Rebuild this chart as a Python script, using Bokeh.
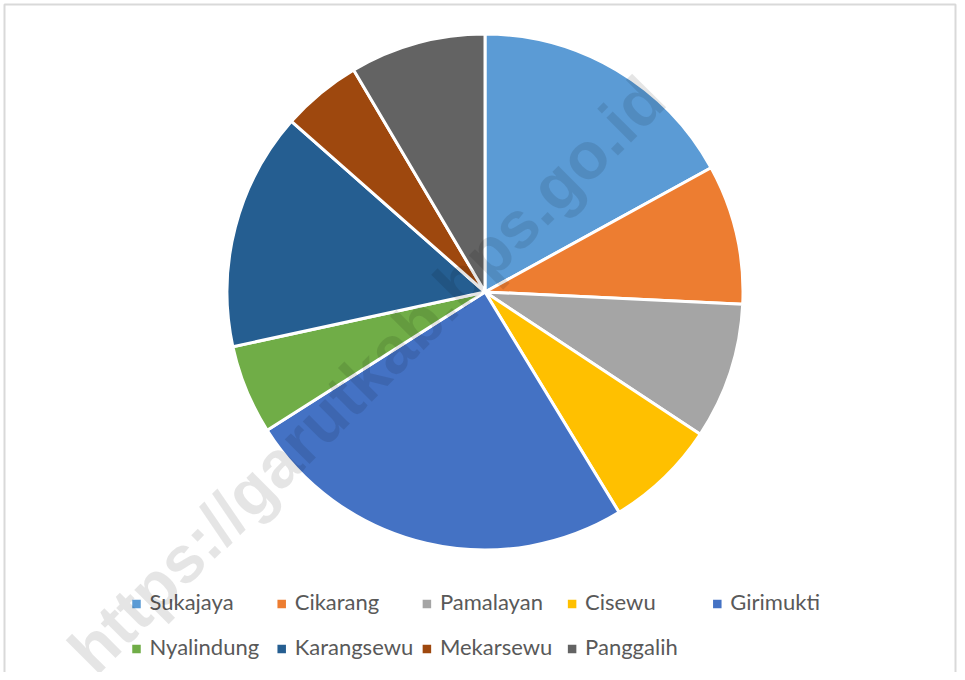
import numpy as np
from bokeh.plotting import figure
from bokeh.models import Range1d, ColumnDataSource
from bokeh.core.properties import value
from bokeh.embed import file_html
from bokeh.resources import INLINE

# ---- data ----
categories = ["Sukajaya", "Cikarang", "Pamalayan", "Cisewu", "Girimukti",
              "Nyalindung", "Karangsewu", "Mekarsewu", "Panggalih"]
shares = [17.0, 8.75, 8.55, 7.0, 24.7, 5.6, 14.9, 5.0, 8.5]
colors = ["#5B9BD5", "#ED7D31", "#A5A5A5", "#FFC000", "#4472C4",
          "#70AD47", "#255E91", "#9E480E", "#636363"]
watermark = "https://garutkab.bps.go.id"

W, H = 957, 672
def sy(y):  # picture y (down) -> data y (up)
    return 680 - y

p = figure(width=W, height=H, output_backend="svg", toolbar_location=None,
           x_range=Range1d(0, W), y_range=Range1d(680 - H, 680),
           min_border=0)
p.axis.visible = False
p.grid.visible = False
p.outline_line_color = None
p.background_fill_color = "white"

# chart-area border (left, top, right)
p.line(x=[4, 4, W - 2, W - 2], y=[sy(H), sy(4), sy(4), sy(H)],
       line_color="#d9d9d9", line_width=2)

# ---- pie ----
vals = np.array(shares, dtype=float)
frac = vals / vals.sum()
cum = np.concatenate([[0.0], np.cumsum(frac)]) * 2 * np.pi
start = np.pi / 2 - cum[:-1]
end = np.pi / 2 - cum[1:]
cx, cy, r = 484.5, sy(291.5), 258
src = ColumnDataSource(dict(start=start, end=end, color=colors, name=categories))
p.wedge(x=cx, y=cy, radius=r, start_angle="start", end_angle="end",
        direction="clock", fill_color="color", line_color="white",
        line_width=3, source=src)

# ---- legend ----
col_x0, col_dx = 136, 145.2
rows = [603.5, 648.5]
n_first = 5
lx, ly, tx, ty = [], [], [], []
for i, name in enumerate(categories):
    row = 0 if i < n_first else 1
    col = i if i < n_first else i - n_first
    x = col_x0 + col * col_dx
    lx.append(x); ly.append(sy(rows[row]))
    tx.append(x + 13); ty.append(sy(rows[row] - 2.5))
leg = ColumnDataSource(dict(lx=lx, ly=ly, tx=tx, ty=ty, color=colors, name=categories))
p.rect(x="lx", y="ly", width=8.5, height=8.5, fill_color="color",
       line_color=None, source=leg)
p.text(x="tx", y="ty", text="name", text_font=value("Lato"),
       text_font_size="22px", text_color="#595959",
       text_baseline="middle", text_align="left", source=leg)

# ---- watermark ----
p.text(x=[366], y=[sy(374)], text=[watermark], angle=np.pi / 4,
       text_font=value("Liberation Sans"), text_font_style="bold",
       text_font_size="66px", text_color="black", text_alpha=0.1,
       text_align="center", text_baseline="middle")

open("out.html", "w").write(file_html(p, INLINE))
